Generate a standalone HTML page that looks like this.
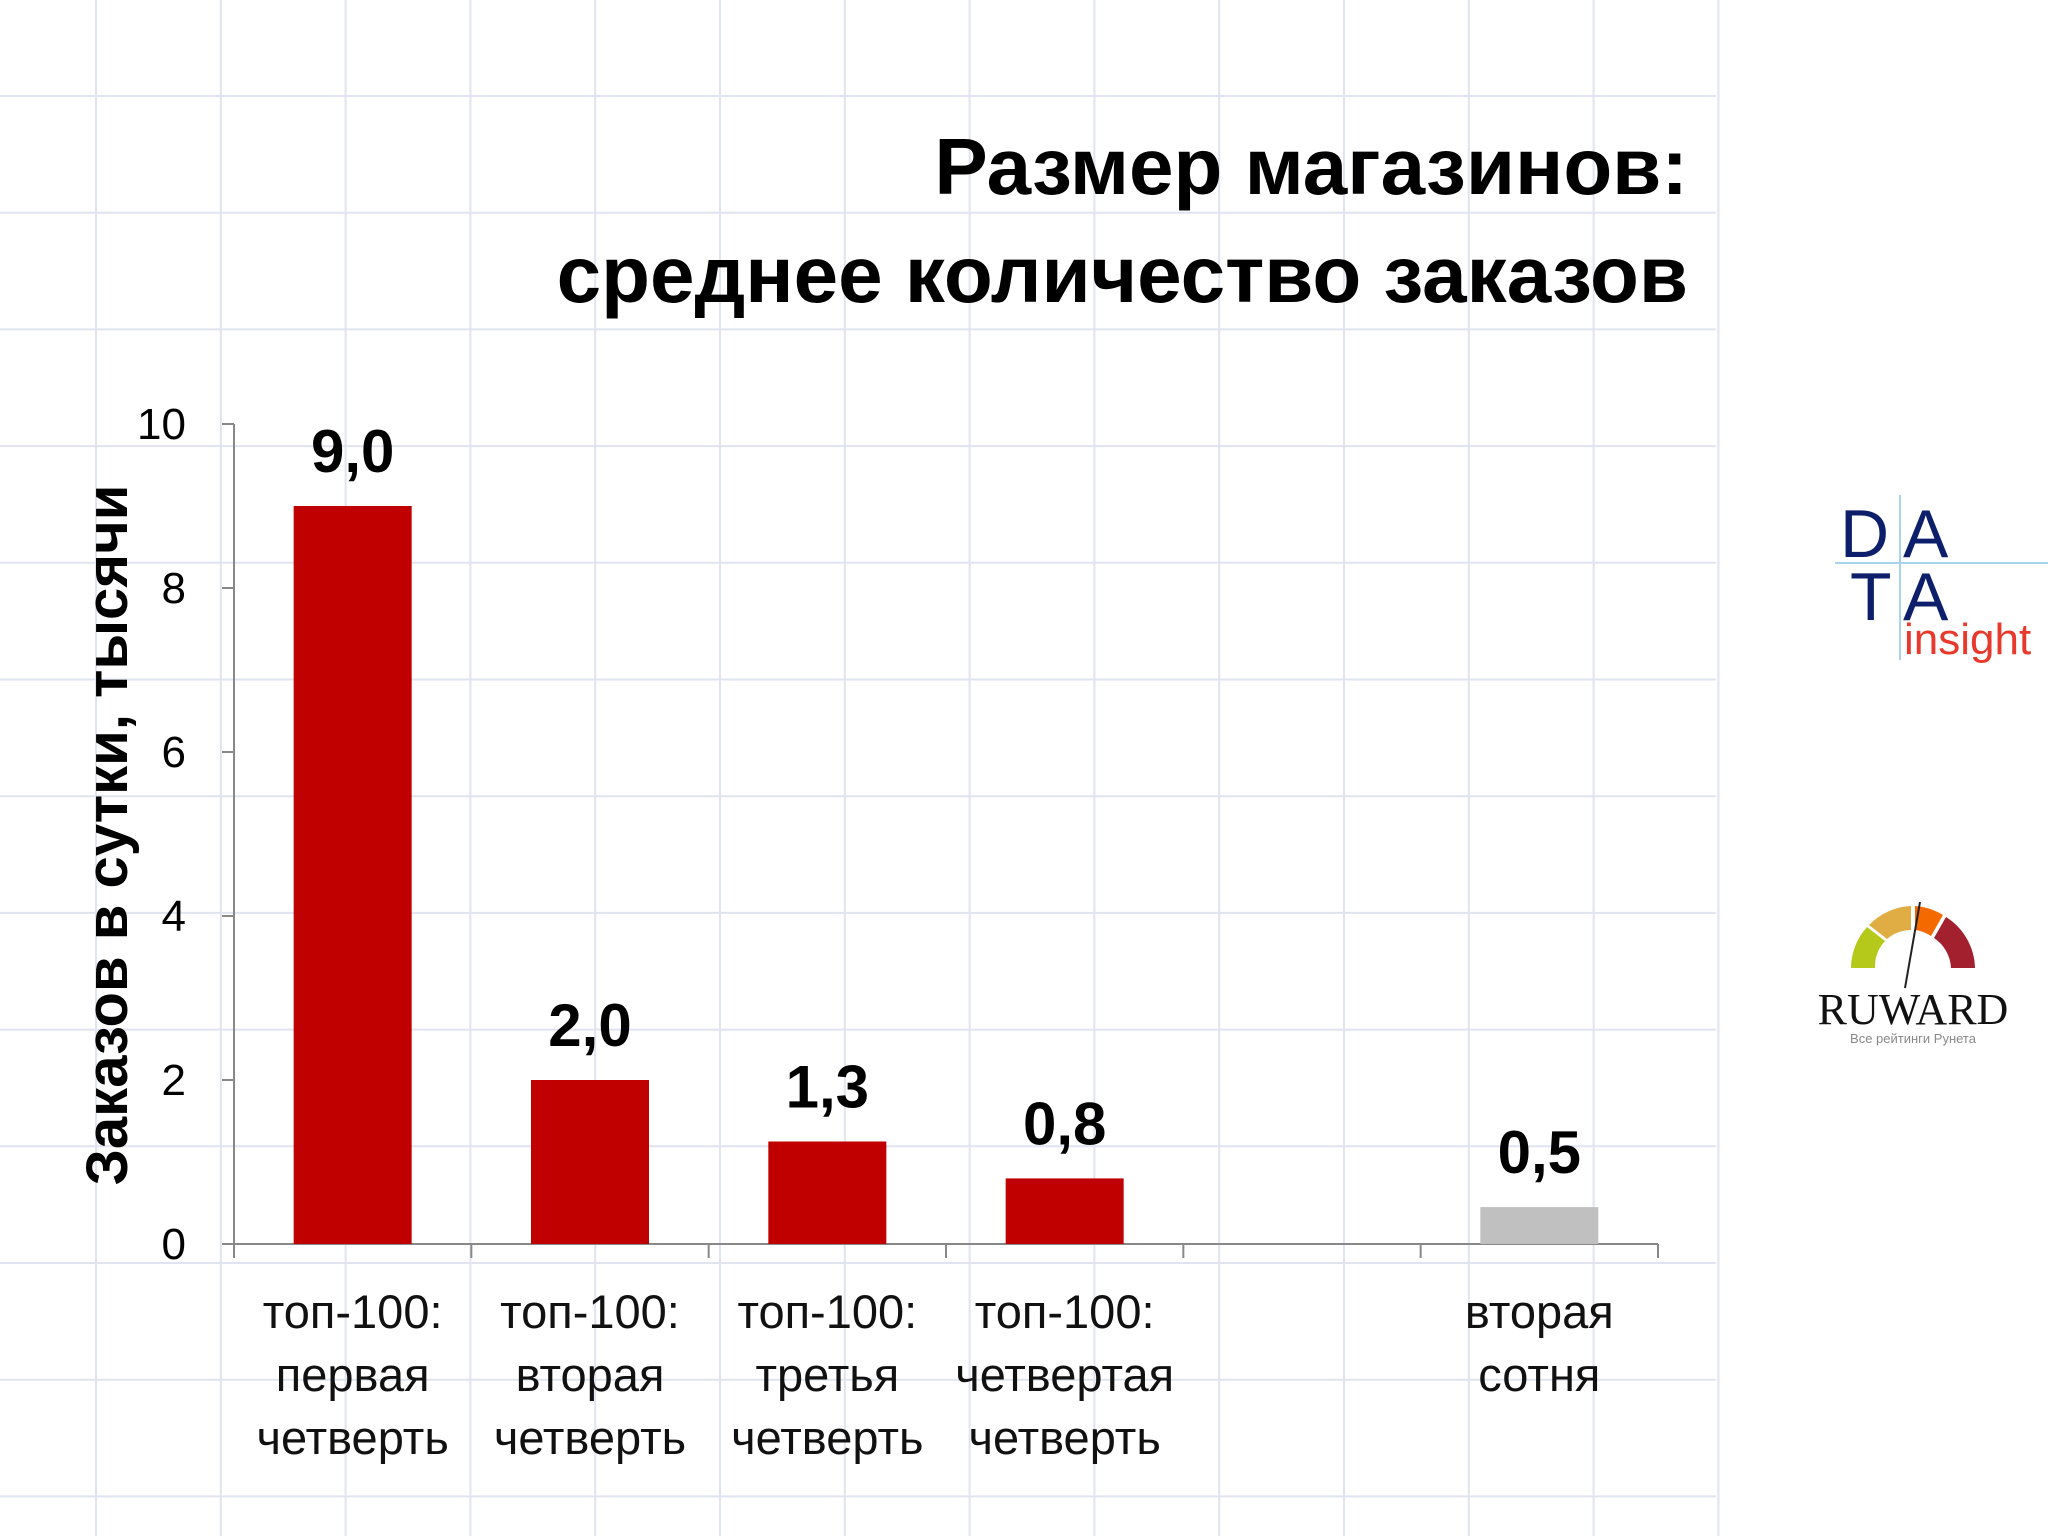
<!DOCTYPE html>
<html><head><meta charset="utf-8"><style>
html,body{margin:0;padding:0;background:#fff}
svg{display:block;font-family:"Liberation Sans","DejaVu Sans",sans-serif}
</style></head><body>
<svg id="c" width="2048" height="1536" viewBox="0 0 2048 1536">
<g id="grid"></g>
<g font-weight="bold" font-size="80" text-anchor="end" fill="#000">
<text x="1688" y="194">Размер магазинов:</text>
<text x="1688" y="302">среднее количество заказов</text>
</g>
<text transform="translate(127,835) rotate(-90)" text-anchor="middle" font-size="58" font-weight="bold" fill="#000">Заказов в сутки, тысячи</text>
<g id="plot"></g>
<g>
<line x1="1835" y1="563" x2="2048" y2="563" stroke="#a9d3ea" stroke-width="2"/>
<line x1="1900" y1="495" x2="1900" y2="660" stroke="#a9d3ea" stroke-width="2"/>
<text x="1840" y="557" font-size="68" fill="#0d1f6b">D</text>
<text x="1903" y="557" font-size="68" fill="#0d1f6b">A</text>
<text x="1850" y="620" font-size="68" fill="#0d1f6b">T</text>
<text x="1903" y="620" font-size="68" fill="#0d1f6b">A</text>
<text x="1904" y="654" font-size="44" fill="#e8392c">insight</text>
</g>
<g transform="translate(-9,0)">
<path d="M1860,968 A62,62 0 0 1 1876,927 L1894,941 A38,38 0 0 0 1884,968 Z" fill="#b5c91a"/>
<path d="M1878,925 A62,62 0 0 1 1920,906 L1920,930 A38,38 0 0 0 1896,939 Z" fill="#e0ad45"/>
<path d="M1924,906 A62,62 0 0 1 1952,915 L1940,936 A38,38 0 0 0 1924,930 Z" fill="#f56a00"/>
<path d="M1955,917 A62,62 0 0 1 1984,968 L1960,968 A38,38 0 0 0 1943,938 Z" fill="#a3202e"/>
<line x1="1914" y1="988" x2="1929" y2="902" stroke="#222" stroke-width="2"/>
<text x="1922" y="1024" font-family="Liberation Serif,serif" font-size="44" text-anchor="middle" fill="#111">RUWARD</text>
<text x="1922" y="1043" font-size="13" text-anchor="middle" fill="#888">Все рейтинги Рунета</text>
</g>
</svg>
<script>
const categories=[["топ-100:","первая","четверть"],["топ-100:","вторая","четверть"],["топ-100:","третья","четверть"],["топ-100:","четвертая","четверть"],[],["вторая","сотня"]];
const values=[9.0,2.0,1.25,0.8,null,0.45];
const valueLabels=["9,0","2,0","1,3","0,8","","0,5"];
const barColors=["#c00000","#c00000","#c00000","#c00000","#c00000","#c0c0c0"];
const yTicks=[0,2,4,6,8,10];
const NS="http://www.w3.org/2000/svg";
const svg=document.getElementById('c');
function mk(t,a,p){const e=document.createElementNS(NS,t);for(const k in a)e.setAttribute(k,a[k]);(p||svg).appendChild(e);return e;}
const grid=document.getElementById('grid'),plot=document.getElementById('plot');
for(let i=0;i<14;i++){const x=96+i*124.8;const l=mk('line',{x1:x,y1:0,x2:x,y2:1536,stroke:'#e0e3f0','stroke-width':2},grid);

}
for(let i=0;i<13;i++){const y=96+i*116.7;const l=mk('line',{x1:0,y1:y,x2:1716,y2:y,stroke:'#e0e3f0','stroke-width':2},grid);

}
const X0=234,X1=1658,Y0=1244,Y10=424;
const yS=v=>Y0-(v/10)*(Y0-Y10);
const band=(X1-X0)/categories.length;
const xC=i=>X0+band*(i+0.5);
const ax=mk('line',{x1:X0,y1:Y10,x2:X0,y2:Y0,stroke:'#888','stroke-width':2},plot);


const bx=mk('line',{x1:X0,y1:Y0,x2:X1,y2:Y0,stroke:'#888','stroke-width':2},plot);


yTicks.forEach(v=>{const y=yS(v);mk('line',{x1:X0-12,y1:y,x2:X0,y2:y,stroke:'#888','stroke-width':2},plot);
const t=mk('text',{x:186,y:y+15,'text-anchor':'end','font-size':44,fill:'#000'},plot);t.textContent=v;

});
for(let i=0;i<=categories.length;i++){const x=X0+band*i;mk('line',{x1:x,y1:Y0,x2:x,y2:Y0+14,stroke:'#888','stroke-width':2},plot);}
values.forEach((v,i)=>{
 if(v!==null){const w=118;const r=mk('rect',{x:xC(i)-w/2,y:yS(v),width:w,height:Y0-yS(v),fill:barColors[i]},plot);
 
 
 const t=mk('text',{x:xC(i),y:yS(v)-34,'text-anchor':'middle','font-size':60,'font-weight':'bold',fill:'#000'},plot);t.textContent=valueLabels[i];
 
 }
 categories[i].forEach((s,j)=>{const t=mk('text',{x:xC(i),y:1328+j*63,'text-anchor':'middle','font-size':47,fill:'#111'},plot);t.textContent=s;
 
 });
});
</script>
</body></html>
